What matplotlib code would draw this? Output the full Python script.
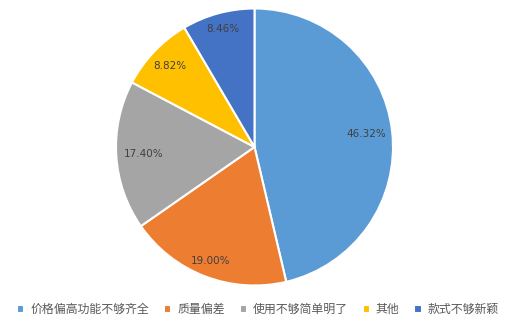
import matplotlib.pyplot as plt
import numpy as np

plt.rcParams['font.family'] = ['Noto Sans CJK SC', 'DejaVu Sans']

labels = ['价格偏高功能不够齐全', '质量偏差', '使用不够简单明了', '其他', '款式不够新颖']
values = [46.32, 19.00, 17.40, 8.82, 8.46]
colors = ['#5B9BD5', '#ED7D31', '#A5A5A5', '#FFC000', '#4472C4']

W, H = 511, 321
fig = plt.figure(figsize=(W / 100, H / 100), dpi=100)
cx, cy, r = 254.5, 321 - 147, 138.5
ax = fig.add_axes([(cx - r) / W, (cy - r) / H, 2 * r / W, 2 * r / H])

wedges, _ = ax.pie(values, colors=colors, startangle=90, counterclock=False,
                   wedgeprops=dict(edgecolor='white', linewidth=1.5))
ax.set_xlim(-1, 1)
ax.set_ylim(-1, 1)
ax.set_aspect('equal')

# label distance per wedge (Excel best-fit places them a bit unevenly)
dist = [0.81, 0.88, 0.80, 0.85, 0.88]
for w, v, d in zip(wedges, values, dist):
    ang = np.deg2rad((w.theta1 + w.theta2) / 2)
    ax.text(d * np.cos(ang), d * np.sin(ang), '%.2f%%' % v,
            ha='center', va='center', fontsize=7.5, color='#404040',
            family=['DejaVu Sans'])

fig.legend(wedges, labels, loc='center', bbox_to_anchor=(0.505, (321 - 309.5) / 321),
           ncol=5, frameon=False, fontsize=8.6, handlelength=0.6, handleheight=0.6,
           handletextpad=0.5, columnspacing=1.25, labelcolor='#595959')

fig.savefig('out.png', dpi=100)
